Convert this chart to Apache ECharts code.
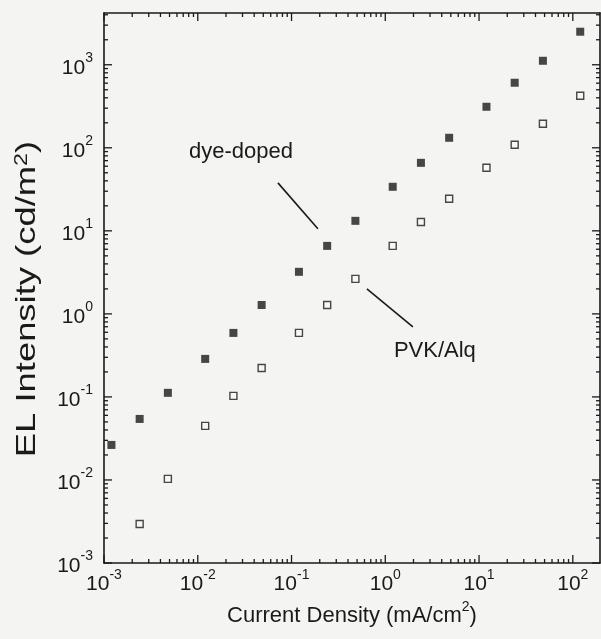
<!DOCTYPE html>
<html>
<head>
<meta charset="utf-8">
<script src="https://cdn.jsdelivr.net/npm/echarts@6/dist/echarts.min.js"></script>
<style>
html, body { margin: 0; padding: 0; background: #f4f4f2; }
#chart { width: 601px; height: 639px; }
</style>
</head>
<body>
<div id="chart"></div>
<script>
// current density (mA/cm2) and EL intensity (cd/m2)
const densityDoped = [0.0012, 0.0024, 0.0048, 0.012, 0.024, 0.048, 0.12, 0.24, 0.48, 1.2, 2.4, 4.8, 12, 24, 48, 120];
const intensityDoped = [0.0264, 0.0543, 0.112, 0.287, 0.59, 1.28, 3.21, 6.59, 13.2, 33.9, 65.9, 132, 312, 607, 1117, 2500];
const densityPvk = [0.0024, 0.0048, 0.012, 0.024, 0.048, 0.12, 0.24, 0.48, 1.2, 2.4, 4.8, 12, 24, 48, 120];
const intensityPvk = [0.00295, 0.0103, 0.0448, 0.103, 0.223, 0.59, 1.28, 2.64, 6.59, 12.8, 24.3, 57.4, 109, 195, 423];

// axis extents and decade tick labels
const xRange = [0.001, 195];
const yRange = [0.001, 4200];
const xDecades = [0.001, 0.01, 0.1, 1, 10, 100];
const yDecades = [0.001, 0.01, 0.1, 1, 10, 100, 1000];

// annotation labels and pointer lines (data coords)
const noteNames = ['dye-doped', 'PVK/Alq'];
const noteText = [[0.0289, 89.5], [3.38, 0.358]];
const noteLines = [[[0.0716, 37.8], [0.191, 10.6]], [[0.637, 2.0], [1.97, 0.697]]];

const ink = '#1a1a1a';
const font = '"Liberation Sans", Arial, Helvetica, sans-serif';

// 2..9 x each decade, the small ticks of a log axis
const minorTicks = (decades, max) => {
    let out = [];
    decades.concat([decades[decades.length - 1] * 10]).forEach(d => {
        for (let k = 2; k <= 9; k++) {
            if (d * k <= max) out.push(d * k);
        }
    });
    return out;
};
// [value, tick length]
const xTicks = xDecades.map(v => [v, 8]).concat(minorTicks(xDecades, xRange[1]).map(v => [v, 4]));
const yTicks = yDecades.map(v => [v, 8]).concat(minorTicks(yDecades, yRange[1]).map(v => [v, 4]));

const powerLabel = (v) => {
    let e = Math.round(Math.log10(v));
    return '{b|10}{s|' + e + '}';
};
const powerRich = {
    b: { fontSize: 21, fontFamily: font, color: ink, verticalAlign: 'bottom', padding: [6, 0, 0, 0] },
    s: { fontSize: 14, fontFamily: font, color: ink, verticalAlign: 'top' }
};

const makeAxis = (pos, range, labels, margin) => ({
    type: 'log',
    position: pos,
    min: range[0],
    max: range[1],
    logBase: 10,
    axisLine: { show: true, onZero: false, lineStyle: { color: ink, width: 1.6 } },
    axisTick: { show: false },
    axisLabel: labels ? {
        show: true, customValues: labels, margin: margin,
        formatter: powerLabel, rich: powerRich
    } : { show: false },
    splitLine: { show: false },
    minorTick: { show: false }
});

const xAxes = [
    makeAxis('bottom', xRange, xDecades, 5),
    makeAxis('top', xRange, null)
];
xAxes[0].name = '{n|Current Density (mA/cm}{p|2}{n|)}';
xAxes[0].nameLocation = 'middle';
xAxes[0].nameGap = 36;
xAxes[0].nameTextStyle = {
    rich: {
        n: { fontSize: 22, fontFamily: font, color: ink, verticalAlign: 'bottom', padding: [5, 0, 0, 0] },
        p: { fontSize: 14, fontFamily: font, color: ink, verticalAlign: 'top' }
    }
};

const yAxes = [
    makeAxis('left', yRange, yDecades, 11),
    makeAxis('right', yRange, null)
];

// inward ticks on all four sides, placed through the axis scales
const tickStyle = { stroke: ink, lineWidth: 1.3 };
const xTickItem = (params, api) => {
    const cs = params.coordSys;
    const x = api.coord([api.value(0), yRange[0]])[0];
    const len = api.value(1);
    return {
        type: 'group',
        children: [
            { type: 'line', shape: { x1: x, y1: cs.y + cs.height, x2: x, y2: cs.y + cs.height - len }, style: tickStyle },
            { type: 'line', shape: { x1: x, y1: cs.y, x2: x, y2: cs.y + len }, style: tickStyle }
        ]
    };
};
const yTickItem = (params, api) => {
    const cs = params.coordSys;
    const y = api.coord([xRange[0], api.value(1)])[1];
    const len = api.value(0);
    return {
        type: 'group',
        children: [
            { type: 'line', shape: { x1: cs.x, y1: y, x2: cs.x + len, y2: y }, style: tickStyle },
            { type: 'line', shape: { x1: cs.x + cs.width, y1: y, x2: cs.x + cs.width - len, y2: y }, style: tickStyle }
        ]
    };
};

const chart = echarts.init(document.getElementById('chart'), null, { renderer: 'canvas' });
chart.setOption({
    animation: false,
    backgroundColor: '#f4f4f2',
    grid: { left: 104, right: 1, top: 13, bottom: 76 },
    xAxis: xAxes,
    yAxis: yAxes,
    // y title, stretched along its length like the scanned original
    graphic: [{
        type: 'text',
        x: 27,
        y: 299,
        rotation: Math.PI / 2,
        scaleX: 1.3,
        silent: true,
        style: {
            text: '{n|EL Intensity (cd/m}{p|2}{n|)}',
            align: 'center',
            verticalAlign: 'middle',
            textAlign: 'center',
            textVerticalAlign: 'middle',
            rich: {
                n: { fontSize: 28, fontFamily: font, fill: ink, color: ink, verticalAlign: 'bottom' },
                p: { fontSize: 18, fontFamily: font, fill: ink, color: ink, verticalAlign: 'top' }
            }
        }
    }],
    series: [
        {
            type: 'custom',
            silent: true,
            clip: false,
            renderItem: xTickItem,
            data: xTicks,
            encode: { x: 0 }
        },
        {
            type: 'custom',
            silent: true,
            clip: false,
            renderItem: yTickItem,
            data: yTicks.map(t => [t[1], t[0]]),
            encode: { y: 1 }
        },
        {
            name: 'dye-doped',
            type: 'scatter',
            symbol: 'rect',
            symbolSize: 8,
            itemStyle: { color: ink },
            data: densityDoped.map((x, i) => [x, intensityDoped[i]]),
            markLine: {
                silent: true,
                symbol: 'none',
                label: { show: false },
                lineStyle: { color: ink, width: 1.6, type: 'solid' },
                data: noteLines.map(l => [{ coord: l[0] }, { coord: l[1] }])
            },
            markPoint: {
                silent: true,
                symbol: 'rect',
                symbolSize: 1,
                itemStyle: { color: 'rgba(0,0,0,0)' },
                label: {
                    show: true, position: 'inside', formatter: '{b}',
                    fontSize: 22, fontFamily: font, color: ink
                },
                data: noteNames.map((n, i) => ({ name: n, coord: noteText[i] }))
            }
        },
        {
            name: 'PVK/Alq',
            type: 'scatter',
            symbol: 'rect',
            symbolSize: 7,
            itemStyle: { color: '#f7f7f5', borderColor: ink, borderWidth: 1.4 },
            data: densityPvk.map((x, i) => [x, intensityPvk[i]])
        }
    ]
});
</script>
</body>
</html>
